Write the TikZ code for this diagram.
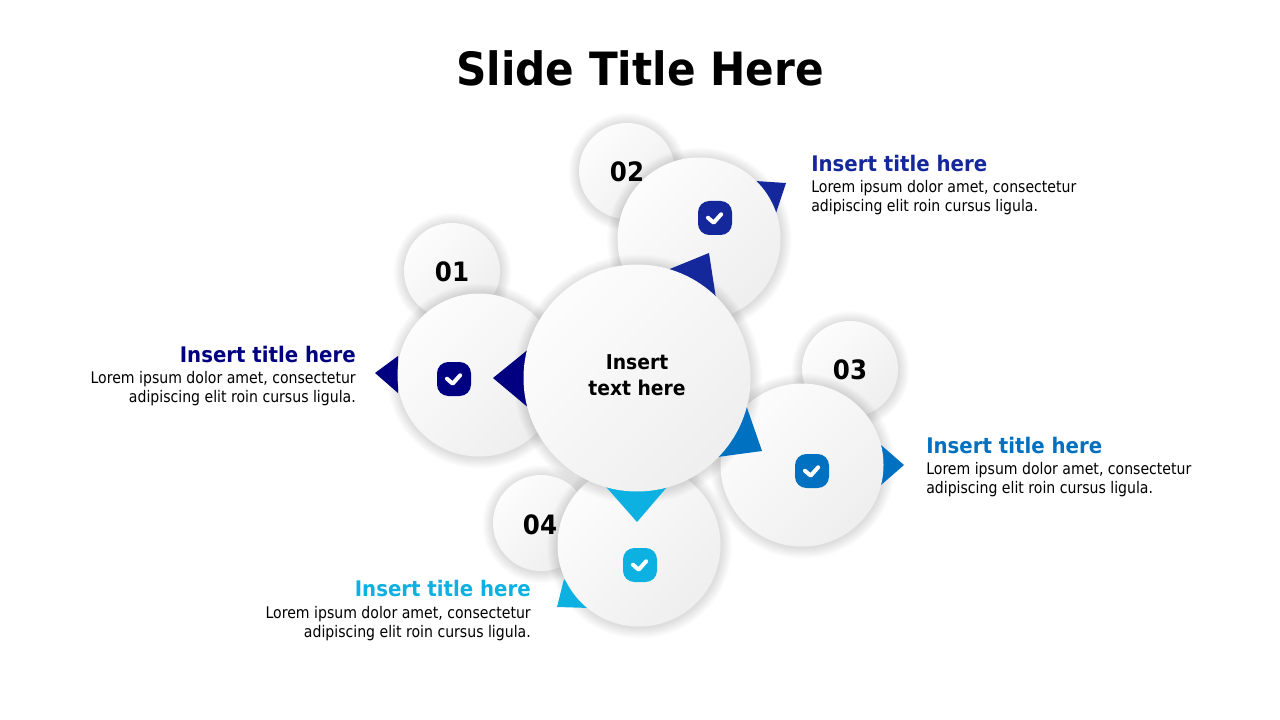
\documentclass[tikz,border=0pt]{standalone}
\usepackage{fontspec}
\setmainfont{DejaVu Sans}[FakeStretch=0.88, BoldFeatures={FakeStretch=0.92}]
\usetikzlibrary{positioning}
\definecolor{navyone}{HTML}{000080}
\definecolor{bluetwo}{HTML}{14289B}
\definecolor{bluethree}{HTML}{0070C0}
\definecolor{bluefour}{HTML}{0DB1E1}
\tikzset{
  bubble/.style={circle, inner sep=0pt, outer sep=0pt, top color=black!1, bottom color=black!6.5, shading angle=45},
  slidetitle/.style={font=\bfseries\fontsize{34.4}{40}\selectfont},
  numlabel/.style={font=\bfseries\fontsize{20}{24}\selectfont},
  headlabel/.style={font=\bfseries\fontsize{16.1}{18}\selectfont, inner sep=0pt},
  bodylabel/.style={font=\fontsize{12}{14.25}\selectfont, inner sep=0pt, align=left},
  iconbox/.style={rounded corners=8.5pt, inner sep=0pt, minimum size=25.5pt}
}
% name, centre, radius in pixels, what lies between shadow and disc
\newcommand{\softbubble}[4]{
  \foreach \k in {1,...,11}
    \fill[black, opacity=.010] (#2) ++(.5,1) circle (#3+\k);
  #4
  \node[bubble, minimum size=#3*1.5pt] (#1) at (#2) {};
}
% name, centre, colour
\newcommand{\checkicon}[3]{
  \node[iconbox, fill=#3] (#1) at (#2) {};
  \draw[white, line width=3pt, line cap=round, line join=round]
    ([shift={(-5.3pt,.2pt)}]#1.center) -- ([shift={(-1pt,-3.5pt)}]#1.center) -- ([shift={(4.6pt,2.8pt)}]#1.center);
}
\begin{document}
\begin{tikzpicture}[x=.75pt, y=-.75pt]
  \useasboundingbox (0,0) rectangle (1280,720);
  \node[slidetitle] (title) at (640,68) {Slide Title Here};

  % 01
  \softbubble{smallone}{452,271}{48}{}
  \softbubble{bigone}{479,375}{81.5}{\fill[navyone] (375,373) -- (398,356) -- (398,393) -- cycle;}
  \node[numlabel] (numone) at (452,272) {01};
  \checkicon{iconone}{454,379}{navyone}

  % 02
  \softbubble{smalltwo}{627,171}{48}{}
  \softbubble{bigtwo}{699,239}{81.5}{\fill[bluetwo] (755,181) -- (786,183) -- (776,213) -- cycle;}
  \node[numlabel] (numtwo) at (627,172) {02};
  \checkicon{icontwo}{715,218}{bluetwo}

  % 03
  \softbubble{smallthree}{850,369}{48}{}
  \softbubble{bigthree}{802,465}{81.5}{\fill[bluethree] (881,445) -- (904,465) -- (881,485) -- cycle;}
  \node[numlabel] (numthree) at (850,370) {03};
  \checkicon{iconthree}{812,471}{bluethree}

  % 04
  \softbubble{smallfour}{541,523}{48}{}
  \softbubble{bigfour}{639,545}{81.5}{\fill[bluefour] (564,579) -- (557,607) -- (590,608) -- cycle;}
  \node[numlabel] (numfour) at (540,525) {04};
  \checkicon{iconfour}{640,565}{bluefour}

  % centre
  \softbubble{hub}{637,378}{113.5}{
    \fill[navyone] (493,378) -- (530,348) -- (530,409) -- cycle;
    \fill[bluetwo] (709,253) -- (660,273) -- (717,305) -- cycle;
    \fill[bluethree] (745,402) -- (762,451) -- (710,458) -- cycle;
    \fill[bluefour] (637,522) -- (600,480) -- (673,480) -- cycle;
  }
  \node[font=\bfseries\fontsize{15.3}{19.5}\selectfont, align=center, inner sep=0pt] (hubtext) at (637,375) {Insert\\text here};

  % labels
  \node[headlabel, anchor=east, text=navyone] (headone) at (356,354) {Insert title here};
  \node[bodylabel, anchor=north east, align=right] (bodyone) at (356,371) {Lorem ipsum dolor amet, consectetur\hspace{3pt}\\adipiscing elit roin cursus ligula.};
  \node[headlabel, anchor=west, text=bluetwo] (headtwo) at (811,163) {Insert title here};
  \node[bodylabel, anchor=north west] (bodytwo) at (811,180) {Lorem ipsum dolor amet, consectetur\\adipiscing elit roin cursus ligula.};
  \node[headlabel, anchor=west, text=bluethree] (headthree) at (926,445) {Insert title here};
  \node[bodylabel, anchor=north west] (bodythree) at (926,462) {Lorem ipsum dolor amet, consectetur\\adipiscing elit roin cursus ligula.};
  \node[headlabel, anchor=east, text=bluefour] (headfour) at (531,588) {Insert title here};
  \node[bodylabel, anchor=north east, align=right] (bodyfour) at (531,606) {Lorem ipsum dolor amet, consectetur\\adipiscing elit roin cursus ligula.};
\end{tikzpicture}
\end{document}
